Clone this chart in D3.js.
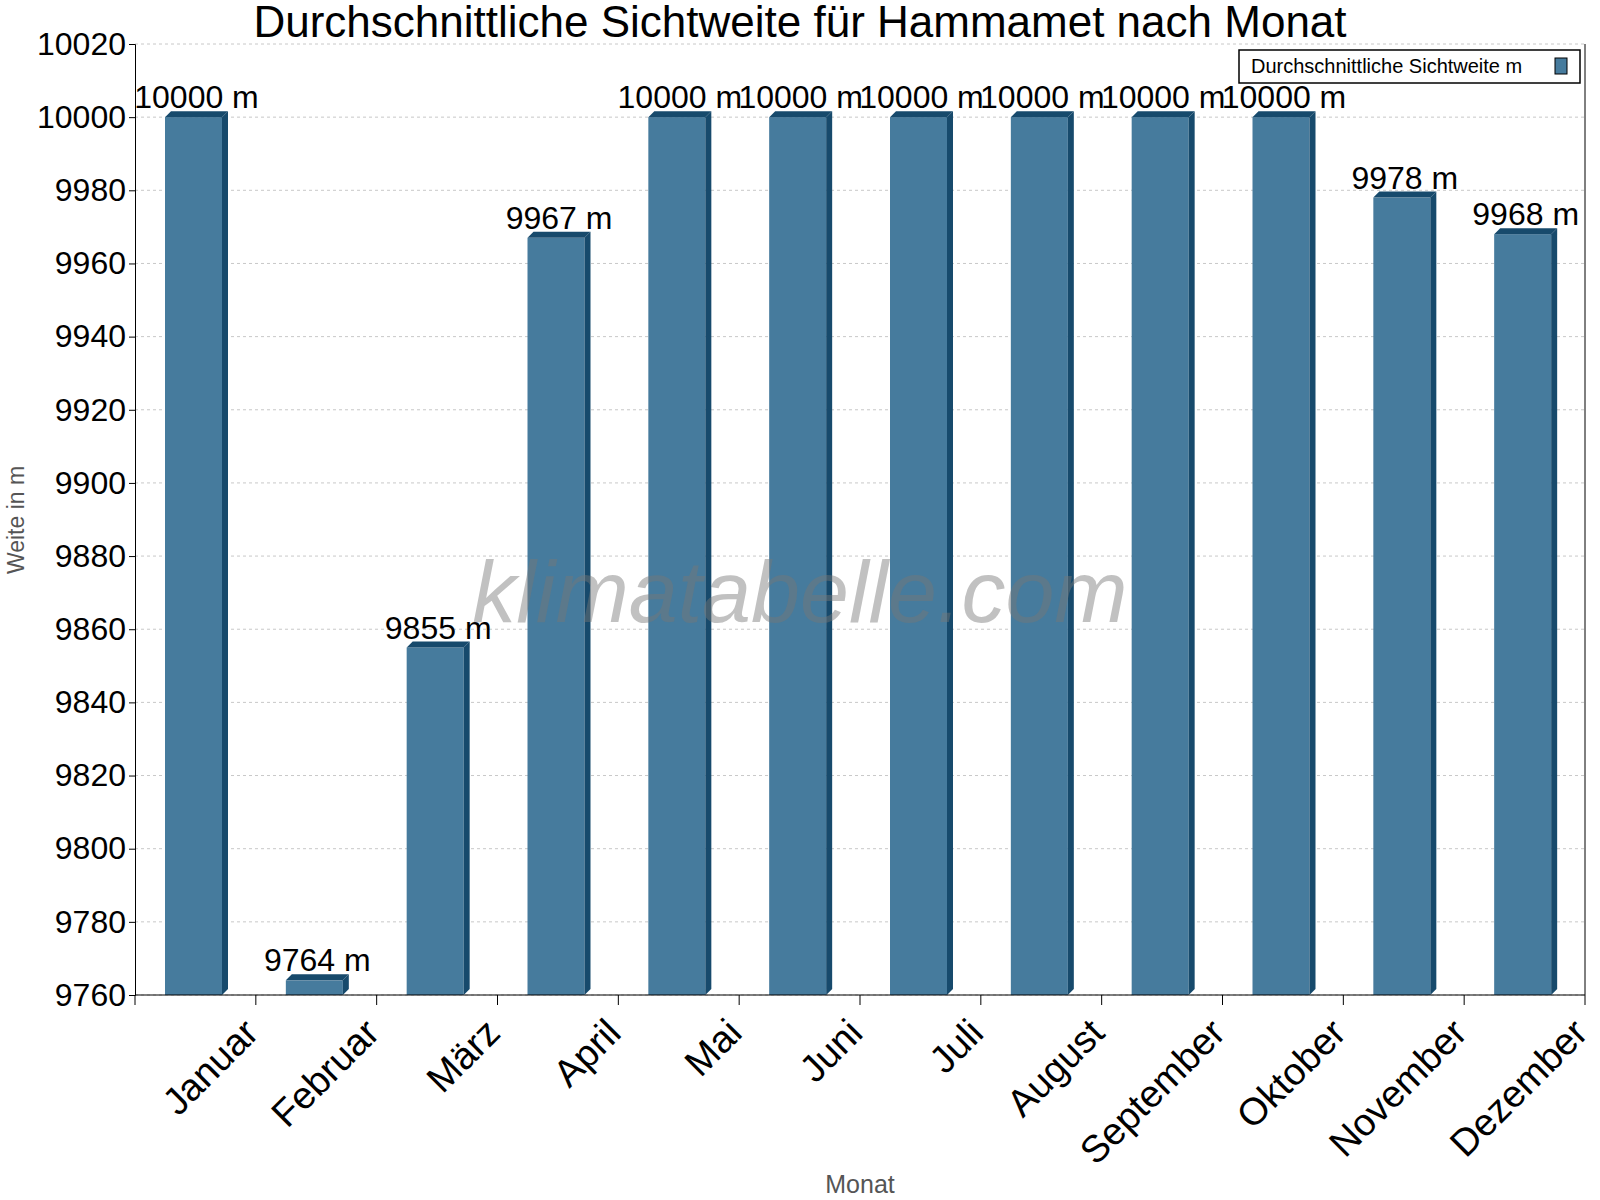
<!DOCTYPE html>
<html><head><meta charset="utf-8">
<script src="https://cdn.jsdelivr.net/npm/d3@7"></script>
<style>body{margin:0;background:#fff}text{font-family:"Liberation Sans",Arial,sans-serif}</style>
</head><body><svg id="c" width="1600" height="1200"></svg>
<script>
const months=["Januar","Februar","März","April","Mai","Juni","Juli","August","September","Oktober","November","Dezember"];
const values=[10000,9764,9855,9967,10000,10000,10000,10000,10000,10000,9978,9968];
const yTicks=d3.range(9760,10021,20);
const svg=d3.select("#c");
const L=135,R=1585,T=44,B=995;
const x=d3.scaleBand().domain(months).range([L,R]);
const y=d3.scaleLinear().domain([9760,10020]).range([B,T]);
svg.append("g").selectAll("line").data(yTicks).join("line")
 .attr("x1",L).attr("x2",R).attr("y1",d=>y(d)).attr("y2",d=>y(d))
 .attr("stroke","#c8c8c8").attr("stroke-dasharray","3,3");
svg.append("line").attr("x1",R).attr("x2",R).attr("y1",T).attr("y2",B).attr("stroke","#000");
const bw=57,off=30,dp=6;
const g=svg.append("g");
months.forEach((m,i)=>{
 const x0=x(m)+off,yt=y(values[i]);
 g.append("rect").attr("x",x0).attr("y",yt).attr("width",bw).attr("height",B-yt).attr("fill","#467b9d");
 g.append("path").attr("d",`M${x0+bw},${yt} L${x0+bw+dp},${yt-dp} L${x0+bw+dp},${B-dp} L${x0+bw},${B} Z`).attr("fill","#174a6c");
 g.append("path").attr("d",`M${x0},${yt} L${x0+dp},${yt-dp} L${x0+bw+dp},${yt-dp} L${x0+bw},${yt} Z`).attr("fill","#174a6c");
 g.append("text").attr("x",x0+bw/2+3).attr("y",yt-9).attr("text-anchor","middle").attr("font-size",32).text(values[i]+" m");
});
svg.append("text").attr("x",800).attr("y",622).attr("text-anchor","middle")
 .attr("font-size",88).attr("font-style","italic").attr("fill","#777").attr("opacity",0.45).text("klimatabelle.com");
const ya=svg.append("g").attr("transform",`translate(${L},0)`).call(d3.axisLeft(y).tickValues(yTicks).tickSize(6).tickFormat(d3.format("d")));
ya.selectAll("text").attr("font-size",32).attr("fill","#000");
ya.select(".domain").attr("stroke","#000");
svg.append("line").attr("x1",L).attr("x2",R).attr("y1",B).attr("y2",B).attr("stroke","#000");
svg.append("g").selectAll("line").data(d3.range(13)).join("line")
 .attr("x1",i=>L+i*x.bandwidth()).attr("x2",i=>L+i*x.bandwidth()).attr("y1",B).attr("y2",B+10).attr("stroke","#000");
svg.append("g").selectAll("text").data(months).join("text")
 .attr("transform",m=>`translate(${x(m)+x.bandwidth()/2+45},${B+20}) rotate(-45)`)
 .attr("text-anchor","end").attr("dy","0.75em").attr("font-size",38).text(d=>d);
svg.append("text").attr("x",800).attr("y",37).attr("text-anchor","middle").attr("font-size",44).text("Durchschnittliche Sichtweite für Hammamet nach Monat");
svg.append("text").attr("x",860).attr("y",1193).attr("text-anchor","middle").attr("font-size",25).attr("fill","#555").text("Monat");
svg.append("text").attr("transform","translate(24,520) rotate(-90)").attr("text-anchor","middle").attr("font-size",23).attr("fill","#555").text("Weite in m");
svg.append("rect").attr("x",1239).attr("y",50).attr("width",341).attr("height",33).attr("fill","#fff").attr("stroke","#000").attr("stroke-width",1.5);
svg.append("text").attr("x",1251).attr("y",73).attr("font-size",20).text("Durchschnittliche Sichtweite m");
svg.append("rect").attr("x",1555).attr("y",58).attr("width",12).attr("height",16).attr("fill","#467b9d").attr("stroke","#000");
</script></body></html>
